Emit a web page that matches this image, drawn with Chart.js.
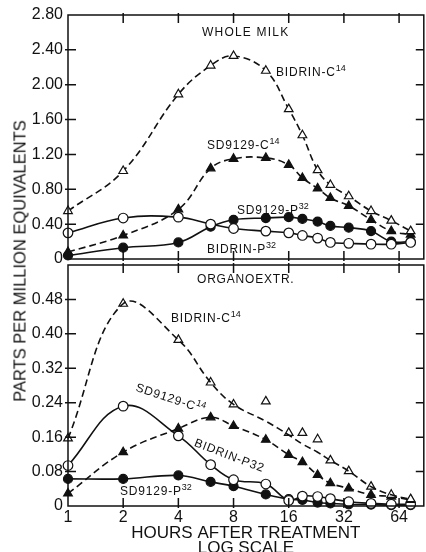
<!DOCTYPE html>
<html>
<head>
<meta charset="utf-8">
<script src="https://cdn.jsdelivr.net/npm/chart.js@4.4.1/dist/chart.umd.min.js"></script>
<style>
  html, body { margin: 0; padding: 0; background: #fff; overflow: hidden; width: 426px; height: 552px; }
  body { position: relative; font-family: 'Liberation Sans', Arial, sans-serif; color: #111; }
  .box { position: absolute; left: 0; }
  #topBox { top: 0; }
  #botBox { top: 252px; }
  .lbl { position: absolute; font-size: 12px; line-height: 14px; letter-spacing: 0.8px; white-space: nowrap; transform-origin: 0 50%; }
  .sup { font-size: 9px; position: relative; top: -5px; letter-spacing: 0; }
  #yTitle { position: absolute; left: 20px; top: 261px; font-size: 16.5px; white-space: nowrap;
            transform: translate(-50%, -50%) rotate(-90deg); }
</style>
</head>
<body>
<div class="box" id="topBox"><canvas id="milkChart" width="430" height="272"></canvas></div>
<div class="box" id="botBox"><canvas id="extrChart" width="430" height="310"></canvas></div>

<div id="yTitle">PARTS PER MILLION EQUIVALENTS</div>
<div class="lbl" style="left:202px; top:25px; letter-spacing:1.2px">WHOLE MILK</div>
<div class="lbl" style="left:276px; top:65px">BIDRIN-C<span class="sup">14</span></div>
<div class="lbl" style="left:207px; top:138px">SD9129-C<span class="sup">14</span></div>
<div class="lbl" style="left:237px; top:203px">SD9129-P<span class="sup">32</span></div>
<div class="lbl" style="left:207px; top:242px">BIDRIN-P<span class="sup">32</span></div>
<div class="lbl" style="left:197px; top:272px">ORGANOEXTR.</div>
<div class="lbl" style="left:171px; top:311px">BIDRIN-C<span class="sup">14</span></div>
<div class="lbl" style="left:136px; top:380px; transform:rotate(18deg)">SD9129-C<span class="sup">14</span></div>
<div class="lbl" style="left:195px; top:435px; transform:rotate(21deg)">BIDRIN-P32</div>
<div class="lbl" style="left:120px; top:484px">SD9129-P<span class="sup">32</span></div>

<script>
const ink = '#111';

const hours = [1, 2, 4, 6, 8, 12, 16, 19, 23, 27, 34, 45, 58, 74];
const hourTicks = [1, 2, 4, 8, 16, 32, 64];
const milkTicks = [0, 0.4, 0.8, 1.2, 1.6, 2.0, 2.4, 2.8];
const extrTicks = [0, 0.08, 0.16, 0.24, 0.32, 0.40, 0.48];

// whole milk
const milkBidrinC14 = [0.55, 1.01, 1.89, 2.22, 2.33, 2.16, 1.72, 1.42, 1.02, 0.85, 0.72, 0.55, 0.44, 0.32];
const milkSD9129C14 = [0.08, 0.27, 0.57, 1.04, 1.15, 1.16, 1.08, 0.93, 0.81, 0.70, 0.61, 0.45, 0.32, 0.28];
const milkBidrinP32 = [0.30, 0.47, 0.48, 0.40, 0.35, 0.32, 0.30, 0.27, 0.24, 0.19, 0.18, 0.17, 0.17, 0.19];
const milkSD9129P32 = [0.04, 0.13, 0.19, 0.37, 0.45, 0.47, 0.48, 0.46, 0.43, 0.38, 0.36, 0.32, 0.20, 0.20];

// organo extract
const extrBidrinC14 = [0.157, 0.47, 0.386, 0.287, 0.236, 0.243, 0.170, 0.170, 0.155, 0.106, 0.081, 0.045, 0.026, 0.016];
const extrBidrinC14Curve = [0.157, 0.47, 0.386, 0.287, 0.236, 0.197, 0.165, 0.144, 0.125, 0.106, 0.081, 0.045, 0.026, 0.016];
const extrSD9129C14 = [0.029, 0.125, 0.180, 0.206, 0.186, 0.154, 0.119, 0.102, 0.072, 0.053, 0.041, 0.026, 0.022, 0.014];
const extrBidrinP32 = [0.094, 0.232, 0.163, 0.096, 0.061, 0.051, 0.013, 0.023, 0.022, 0.017, 0.010, 0.006, 0.004, 0.004];
const extrSD9129P32 = [0.063, 0.063, 0.071, 0.056, 0.046, 0.027, 0.016, 0.014, 0.008, 0.006, 0.004, 0.003, 0.002, 0.002];

Chart.defaults.font.family = "'Liberation Sans', Arial, sans-serif";
Chart.defaults.color = ink;

function series(vals, opts) {
    return Object.assign({
        data: hours.map((h, i) => ({ x: h, y: vals[i] })),
        borderColor: ink,
        borderWidth: 1.6,
        pointBorderColor: ink,
        pointBorderWidth: 1.2,
        tension: 0.4,
        clip: false,
        fill: false,
    }, opts);
}

const openTri = { pointStyle: "triangle", pointRadius: 5, pointBackgroundColor: "#fff" };
const fullTri = { pointStyle: "triangle", pointRadius: 5, pointBackgroundColor: ink };
const openDot = { pointStyle: "circle", pointRadius: 4.8, pointBackgroundColor: "#fff" };
const fullDot = { pointStyle: "circle", pointRadius: 4.5, pointBackgroundColor: ink };
const dashed = { borderDash: [7, 4] };

// box round the plot + short inward ticks on every side
const frame = {
    id: "frame",
    afterDraw(chart, args, o) {
        const { ctx, chartArea: a, scales: { x, y } } = chart;
        ctx.save();
        ctx.strokeStyle = ink;
        ctx.lineWidth = 1.5;
        ctx.strokeRect(a.left, a.top, a.right - a.left, a.bottom - a.top);
        ctx.beginPath();
        hourTicks.slice(1).forEach((v) => {
            const px = x.getPixelForValue(v);
            ctx.moveTo(px, a.top - 2);
            ctx.lineTo(px, a.top + 8);
            ctx.moveTo(px, a.bottom - 8);
            ctx.lineTo(px, a.bottom + 2);
        });
        o.yTicks.filter((v) => v > 0 && v < y.max).forEach((v) => {
            const py = y.getPixelForValue(v);
            ctx.moveTo(a.left - 3, py);
            ctx.lineTo(a.left + 8, py);
            ctx.moveTo(a.right - 8, py);
            ctx.lineTo(a.right, py);
        });
        ctx.stroke();
        ctx.restore();
    },
};

function xScale(show) {
    return {
        type: "logarithmic",
        min: 1,
        max: 87.3,
        display: show,
        afterBuildTicks: (s) => { s.ticks = hourTicks.map((v) => ({ value: v })); },
        afterFit: (s) => { s.height = show ? 56 : 0; },
        grid: { display: false, drawTicks: false },
        border: { display: false },
        ticks: { color: ink, font: { size: 16 }, padding: 2, maxRotation: 0, autoSkip: false, callback: (v) => String(v) },
        title: {
            display: true,
            text: ["HOURS AFTER TREATMENT", "LOG SCALE"],
            color: ink,
            font: { size: 17, lineHeight: 0.88 },
            padding: { top: 0, bottom: 6.5 },
        },
    };
}

function yScale(max, tickVals) {
    return {
        min: 0,
        max: max,
        afterBuildTicks: (s) => { s.ticks = tickVals.map((v) => ({ value: v })); },
        afterFit: (s) => { s.width = 68; },
        grid: { display: false, drawTicks: false },
        border: { display: false },
        ticks: { color: ink, font: { size: 16, lineHeight: 1 }, padding: 5, callback: (v) => (v === 0 ? "0" : v.toFixed(2)) },
    };
}

const baseOptions = (pad, yTicks, max, showX) => ({
    responsive: false,
    animation: false,
    layout: { padding: pad },
    plugins: { legend: { display: false }, tooltip: { enabled: false }, frame: { yTicks: yTicks } },
    scales: { x: xScale(showX), y: yScale(max, yTicks) },
});

const milkChart = new Chart("milkChart", {
    type: "line",
    data: {
        datasets: [
            series(milkBidrinC14, Object.assign({}, openTri, dashed)),
            series(milkSD9129C14, Object.assign({}, fullTri, dashed)),
            series(milkBidrinP32, openDot),
            series(milkSD9129P32, fullDot),
        ],
    },
    options: baseOptions({ top: 15, left: 0, right: 2, bottom: 10 }, milkTicks, 2.8, false),
    plugins: [frame],
});

const extrChart = new Chart("extrChart", {
    type: "line",
    data: {
        datasets: [
            series(extrBidrinC14Curve, Object.assign({ pointRadius: 0 }, dashed)),
            series(extrBidrinC14, Object.assign({ showLine: false }, openTri)),
            series(extrSD9129C14, Object.assign({}, fullTri, dashed)),
            series(extrBidrinP32, openDot),
            series(extrSD9129P32, fullDot),
        ],
    },
    options: baseOptions({ top: 10, left: 0, right: 2, bottom: 0 }, extrTicks, 0.56, true),
    plugins: [frame],
});
</script>
</body>
</html>
